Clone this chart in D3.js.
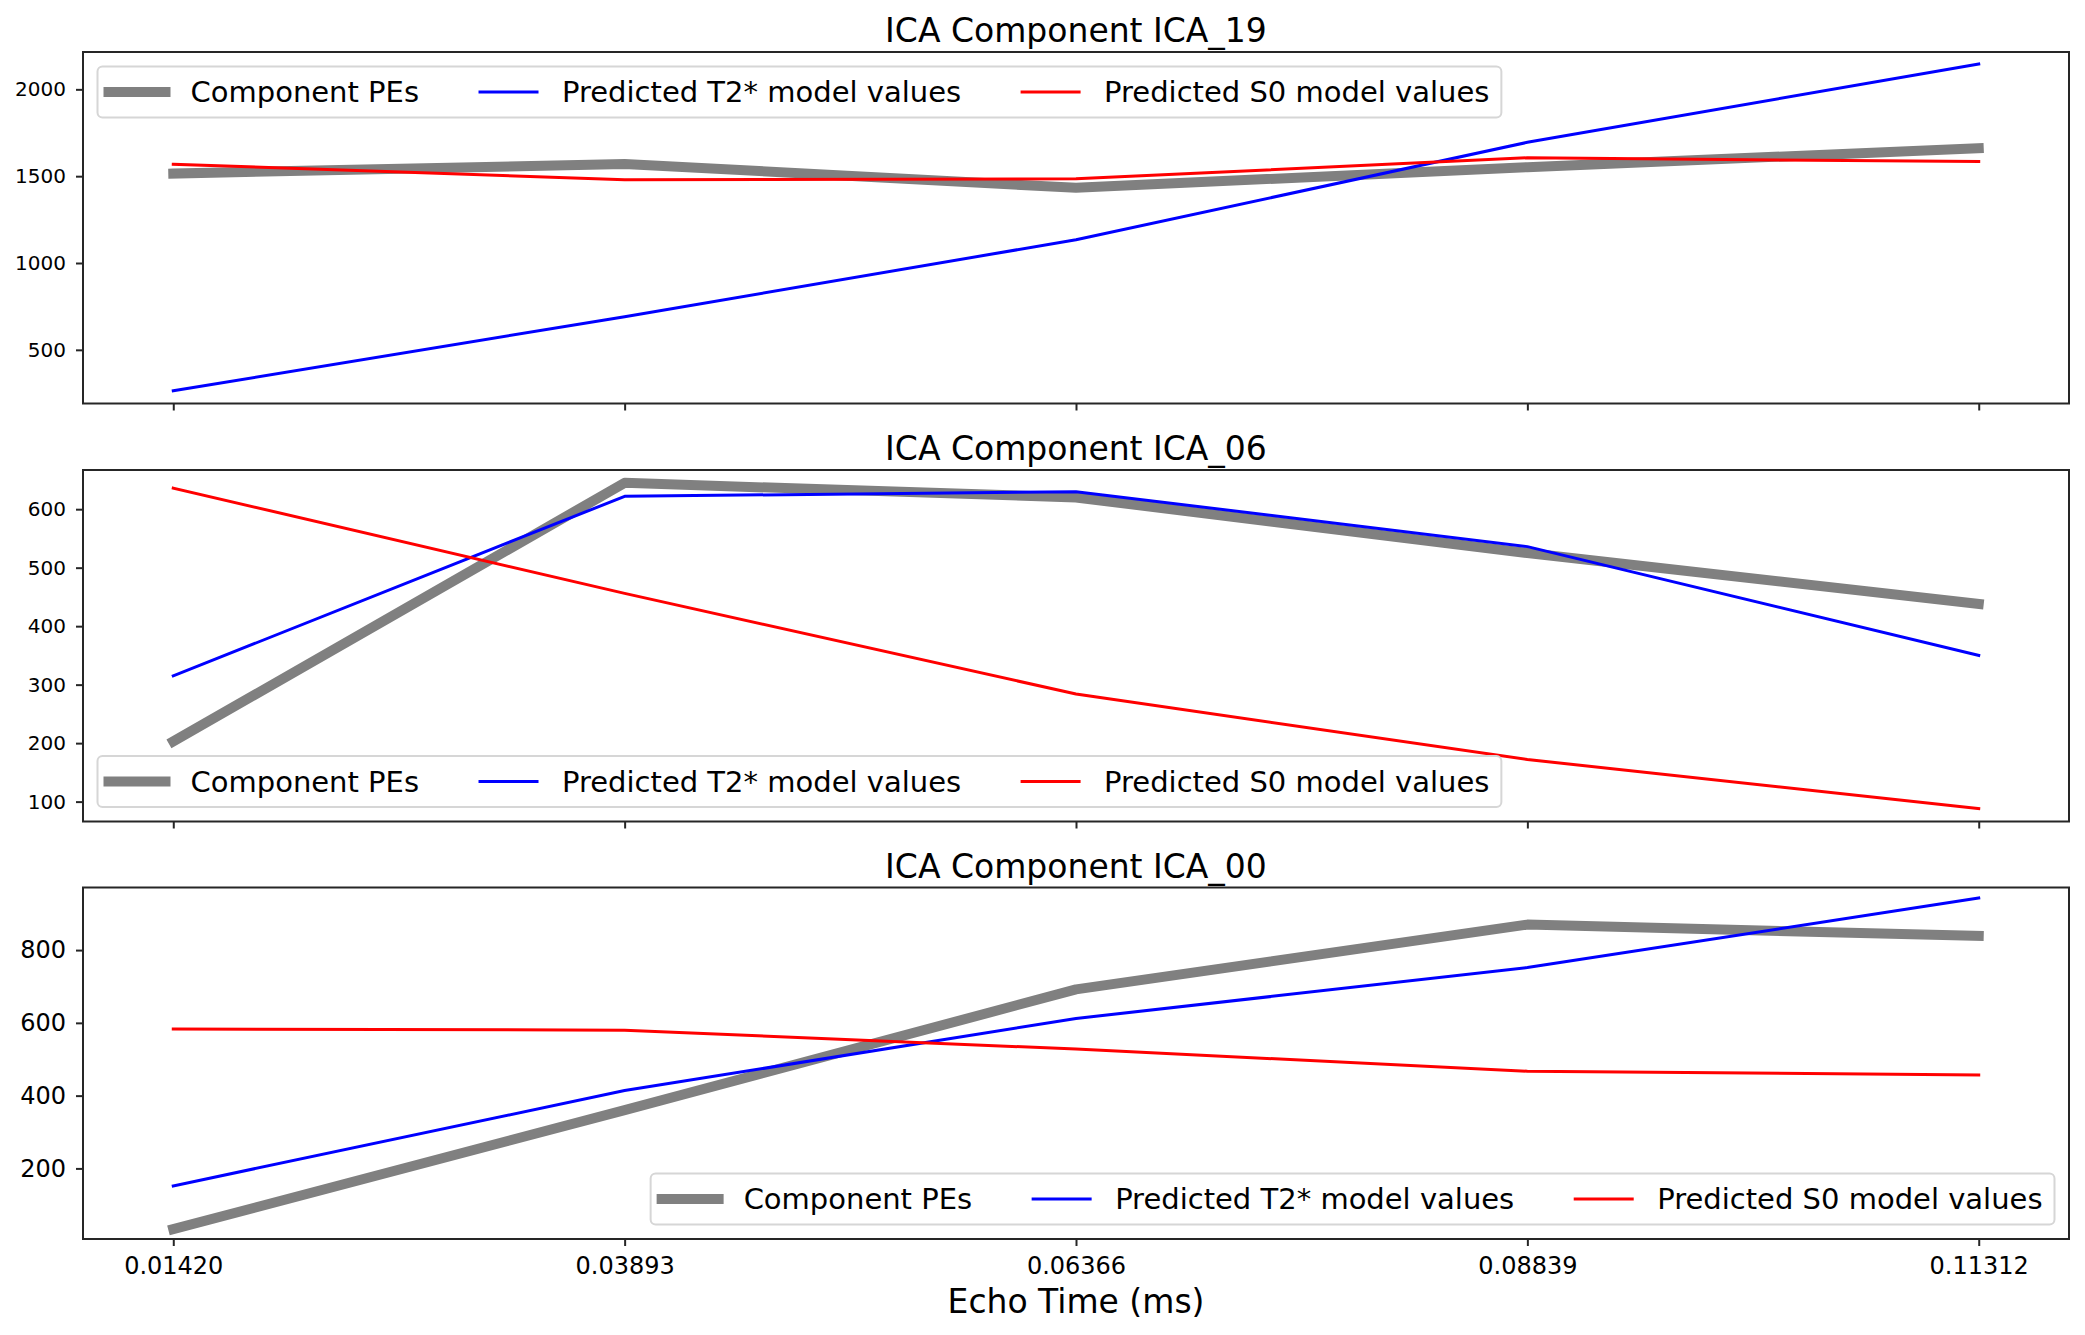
<!DOCTYPE html>
<html>
<head>
<meta charset="utf-8">
<script src="https://cdn.jsdelivr.net/npm/d3@7"></script>
<style>
  body { margin: 0; background: #fff; }
  svg { display: block; font-family: "DejaVu Sans", sans-serif; }
</style>
</head>
<body>
<svg width="2085" height="1335"></svg>
<script>
// echo times (x) shared by all panels
const echoTimes = [0.01420, 0.03893, 0.06366, 0.08839, 0.11312];
const xTickLabels = ["0.01420", "0.03893", "0.06366", "0.08839", "0.11312"];

const titles = ["ICA Component ICA_19", "ICA Component ICA_06", "ICA Component ICA_00"];
const seriesNames = ["Component PEs", "Predicted T2* model values", "Predicted S0 model values"];

// values
const componentPEs = [
    [1515, 1570, 1433, 1552, 1661],
    [203, 645, 620, 525, 438],
    [33, 360, 692, 870, 839]
];
const predictedT2 = [
    [264, 691, 1134, 1695, 2146],
    [315, 622, 630, 536, 350],
    [152, 414, 612, 752, 943]
];
const predictedS0 = [
    [1569, 1479, 1485, 1606, 1584],
    [636, 456, 284, 172, 88],
    [583, 580, 528, 467, 457]
];

const yLimits = [[191, 2215], [66, 667], [6, 972]];
const yTicks = [[500, 1000, 1500, 2000], [100, 200, 300, 400, 500, 600], [200, 400, 600, 800]];

const svg = d3.select("svg");
const left = 83, plotW = 1986, plotH = 351.5;
const tops = [52, 470, 887.5];
const legendCorner = ["upper left", "lower left", "lower right"];
const tickFont = [20, 20, 24];

const colors = ["#808080", "#0000ff", "#ff0000"];
const widths = [10, 3, 3];

const xPad = (echoTimes[4] - echoTimes[0]) * 0.05;
const x = d3.scaleLinear()
    .domain([echoTimes[0] - xPad, echoTimes[4] + xPad])
    .range([0, plotW]);

titles.forEach((title, i) => {
    const g = svg.append("g").attr("transform", `translate(${left},${tops[i]})`);
    const y = d3.scaleLinear().domain(yLimits[i]).range([plotH, 0]);

    // y axis
    const ya = g.append("g")
        .call(d3.axisLeft(y).tickValues(yTicks[i]).tickFormat(d3.format("d"))
            .tickSize(7).tickPadding(10).tickSizeOuter(0));
    ya.select(".domain").remove();
    ya.selectAll("line").attr("stroke", "#262626").attr("stroke-width", 2);
    ya.selectAll("text").attr("font-size", tickFont[i]).attr("fill", "#000")
        .attr("font-family", "DejaVu Sans");

    // x axis (labels only on the last panel)
    const xa = g.append("g")
        .attr("transform", `translate(0,${plotH})`)
        .call(d3.axisBottom(x).tickValues(echoTimes).tickSize(7).tickPadding(11).tickSizeOuter(0)
            .tickFormat((d, k) => i === 2 ? xTickLabels[k] : ""));
    xa.select(".domain").remove();
    xa.selectAll("line").attr("stroke", "#262626").attr("stroke-width", 2);
    xa.selectAll("text").attr("font-size", tickFont[i]).attr("fill", "#000")
        .attr("font-family", "DejaVu Sans");

    // lines
    const series = [componentPEs[i], predictedT2[i], predictedS0[i]];
    const line = d3.line().x((d, k) => x(echoTimes[k])).y(d => y(d));
    series.forEach((vals, s) => {
        g.append("path")
            .datum(vals)
            .attr("d", line)
            .attr("fill", "none")
            .attr("stroke", colors[s])
            .attr("stroke-width", widths[s])
            .attr("stroke-linecap", "square")
            .attr("stroke-linejoin", "round");
    });

    // frame
    g.append("rect")
        .attr("width", plotW).attr("height", plotH)
        .attr("fill", "none").attr("stroke", "#262626").attr("stroke-width", 2);

    // title
    g.append("text")
        .attr("x", plotW / 2).attr("y", -10)
        .attr("text-anchor", "middle")
        .attr("font-size", 33)
        .text(title);

    // legend
    const lg = g.append("g");
    const box = lg.append("rect")
        .attr("rx", 5).attr("ry", 5)
        .attr("fill", "#fff").attr("fill-opacity", 0.8)
        .attr("stroke", "#d6d6d6").attr("stroke-width", 2);
    let cx = 11;
    const boxH = 51;
    seriesNames.forEach((name, s) => {
        lg.append("line")
            .attr("x1", cx).attr("x2", cx + 57)
            .attr("y1", boxH / 2).attr("y2", boxH / 2)
            .attr("stroke", colors[s]).attr("stroke-width", widths[s])
            .attr("stroke-linecap", "square");
        const t = lg.append("text")
            .attr("x", cx + 82).attr("y", boxH / 2)
            .attr("dy", "0.35em")
            .attr("font-size", 29)
            .text(name);
        const w = t.node().getComputedTextLength();
        cx = cx + 82 + w + (s < 2 ? 61 : 12);
    });
    const boxW = cx;
    box.attr("width", boxW).attr("height", boxH);
    const pad = 14.5;
    let lx = pad, ly = pad;
    if (legendCorner[i].includes("right")) lx = plotW - pad - boxW;
    if (legendCorner[i].includes("lower")) ly = plotH - pad - boxH;
    lg.attr("transform", `translate(${lx},${ly})`);
});

// x axis label
svg.append("text")
    .attr("x", left + plotW / 2).attr("y", 1313)
    .attr("text-anchor", "middle")
    .attr("font-size", 33)
    .text("Echo Time (ms)");
</script>
</body>
</html>
